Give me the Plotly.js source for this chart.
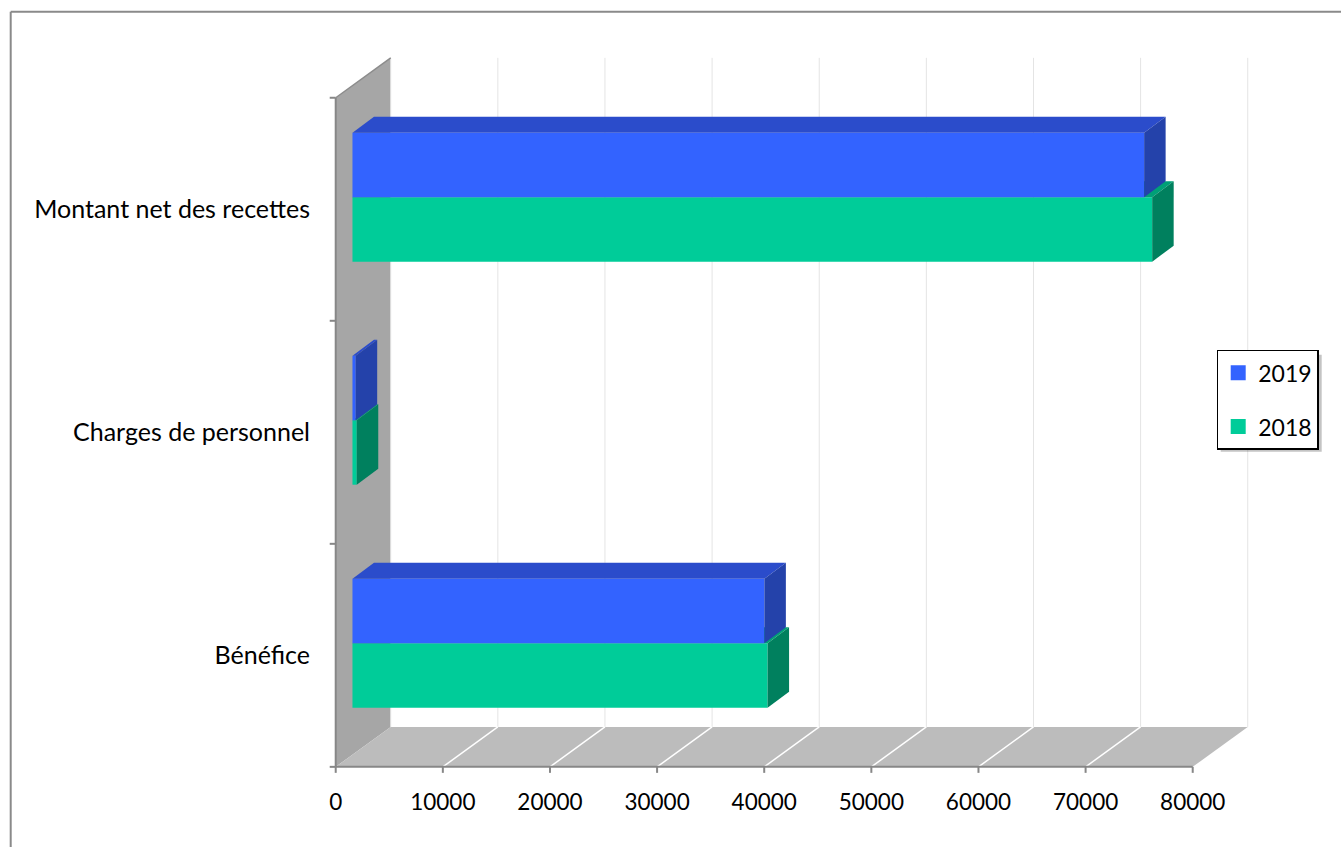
<!DOCTYPE html>
<html>
<head>
<meta charset="utf-8">
<script src="https://cdn.plot.ly/plotly-3.0.1.min.js"></script>
<style>html,body{margin:0;padding:0;background:#fff;}#chart{width:1341px;height:847px;}</style>
</head>
<body>
<div id="chart"></div>
<script>
// ---- data ----
const categories = ['Bénéfice', 'Charges de personnel', 'Montant net des recettes'];
const seriesNames = ['2019', '2018'];
const values2019 = [38450, 300, 73900];
const values2018 = [38750, 400, 74650];
const xTickVals = [0, 10000, 20000, 30000, 40000, 50000, 60000, 70000, 80000];
const xTickText = ['0', '10000', '20000', '30000', '40000', '50000', '60000', '70000', '80000'];

// ---- styling / geometry ----
const colors = {
  '2019': {front: '#3363FF', top: '#2B4CCB', side: '#2442AA'},
  '2018': {front: '#00CC99', top: '#00A077', side: '#00805E'}
};
const XMAX = 80000;
const WALL_DX = 5134, WALL_DY = 0.179;
const BAR_OX = 1564, BAR_OY = 0.054;
const BAR_DX = 2007, BAR_DY = 0.072;
const BAR_H = 0.289;
const X_RANGE = [-1000, 86000];
const Y_RANGE = [-0.55, 2.75];
const ML = 325.3, MR = 83.7, MT = 42.3, MB = 68.8;
const W = 1341, H = 847;
const PW = W - ML - MR, PH = H - MT - MB;
const px2paperX = p => (p - ML) / PW;
const py2paperY = p => (H - MB - p) / PH;
const nCat = categories.length;
const yBottom = -0.5, yTop = nCat - 0.5;

const traces = [];
function poly(xs, ys, color) {
  traces.push({type: 'scatter', mode: 'lines', x: xs.concat([xs[0]]), y: ys.concat([ys[0]]),
    fill: 'toself', fillcolor: color, line: {width: 0, color: color}, hoverinfo: 'skip', showlegend: false});
}
function lines(segs, color, width) {
  const xs = [], ys = [];
  segs.forEach(s => { xs.push(s[0], s[2], null); ys.push(s[1], s[3], null); });
  traces.push({type: 'scatter', mode: 'lines', x: xs, y: ys, line: {color: color, width: width},
    hoverinfo: 'skip', showlegend: false});
}

// left wall
poly([0, 0, WALL_DX, WALL_DX], [yBottom, yTop, yTop + WALL_DY, yBottom + WALL_DY], '#A6A6A6');
// floor
poly([0, XMAX, XMAX + WALL_DX, WALL_DX], [yBottom, yBottom, yBottom + WALL_DY, yBottom + WALL_DY], '#BCBCBC');
// back wall gridlines
lines(xTickVals.map(v => [v + WALL_DX, yBottom + WALL_DY, v + WALL_DX, yTop + WALL_DY]), '#E4E4E4', 1);
// floor diagonals
lines(xTickVals.slice(1, -1).map(v => [v, yBottom, v + WALL_DX, yBottom + WALL_DY]), '#FFFFFF', 1.5);
// wall top edge
lines([[0, yTop, WALL_DX, yTop + WALL_DY]], '#8C8C8C', 1.5);
// axis lines and ticks
const tickLenX = 6 / (PW / (X_RANGE[1] - X_RANGE[0]));
const tickLenY = 6 / (PH / (Y_RANGE[1] - Y_RANGE[0]));
const axisSegs = [[0, yBottom, 0, yTop], [0, yBottom, XMAX, yBottom]];
for (let i = 0; i <= nCat; i++) axisSegs.push([-tickLenX, yBottom + i, 0, yBottom + i]);
xTickVals.forEach(v => axisSegs.push([v, yBottom, v, yBottom - tickLenY]));
lines(axisSegs, '#878787', 2);

// bars (front, top, side faces) built from the data
function bar(v, yLow, c) {
  const x0 = BAR_OX, x1 = BAR_OX + v, y0 = yLow, y1 = yLow + BAR_H;
  poly([x0, x1, x1, x0], [y0, y0, y1, y1], c.front);
  poly([x0, x1, x1 + BAR_DX, x0 + BAR_DX], [y1, y1, y1 + BAR_DY, y1 + BAR_DY], c.top);
  poly([x1, x1, x1 + BAR_DX, x1 + BAR_DX], [y0, y1, y1 + BAR_DY, y0 + BAR_DY], c.side);
}
for (let i = 0; i < nCat; i++) {
  const yc = i + BAR_OY;
  bar(values2018[i], yc - BAR_H, colors['2018']);
  bar(values2019[i], yc, colors['2019']);
}

// legend entries
seriesNames.forEach((n, k) => {
  traces.push({type: 'scatter', mode: 'markers', x: [null], y: [null], name: n,
    legendgroup: n, legendrank: k + 1,
    marker: {symbol: 'square', size: 15, color: colors[n].front}});
});

const FONT = 'Lato, "Open Sans", sans-serif';
const layout = {
  width: W, height: H,
  margin: {l: ML, r: MR, t: MT, b: MB, pad: 0},
  paper_bgcolor: '#FFFFFF', plot_bgcolor: '#FFFFFF',
  font: {family: FONT, size: 22, color: '#000'},
  showlegend: true,
  legend: {x: px2paperX(1217), y: py2paperY(350), xanchor: 'left', yanchor: 'top',
    bgcolor: '#FFFFFF', bordercolor: '#000000', borderwidth: 1.5,
    traceorder: 'grouped', tracegroupgap: 21, font: {family: FONT, size: 23, color: '#000'}},
  xaxis: {range: X_RANGE, tickvals: xTickVals, ticktext: xTickText, ticks: '', showgrid: false,
    zeroline: false, showline: false, ticklabelstandoff: 8, automargin: false, fixedrange: true,
    tickfont: {family: FONT, size: 22.5, color: '#000'}},
  yaxis: {range: Y_RANGE, tickvals: categories.map((c, i) => i), ticktext: categories, ticks: '',
    showgrid: false, zeroline: false, showline: false, ticklabelstandoff: 14, automargin: false,
    fixedrange: true, tickfont: {family: FONT, size: 25, color: '#000'}},
  shapes: [
    {type: 'rect', xref: 'paper', yref: 'paper', x0: px2paperX(1221), x1: px2paperX(1322),
      y0: py2paperY(452), y1: py2paperY(355), fillcolor: 'rgba(60,60,60,0.3)', line: {width: 0}, layer: 'above'},
    {type: 'line', xref: 'paper', yref: 'paper', x0: px2paperX(11), x1: px2paperX(1345),
      y0: py2paperY(12), y1: py2paperY(12), line: {color: '#8A8A8A', width: 2}},
    {type: 'line', xref: 'paper', yref: 'paper', x0: px2paperX(11), x1: px2paperX(11),
      y0: py2paperY(12), y1: py2paperY(850), line: {color: '#8A8A8A', width: 2}}
  ]
};
Plotly.newPlot('chart', traces, layout, {staticPlot: true, displayModeBar: false});
</script>
</body>
</html>
